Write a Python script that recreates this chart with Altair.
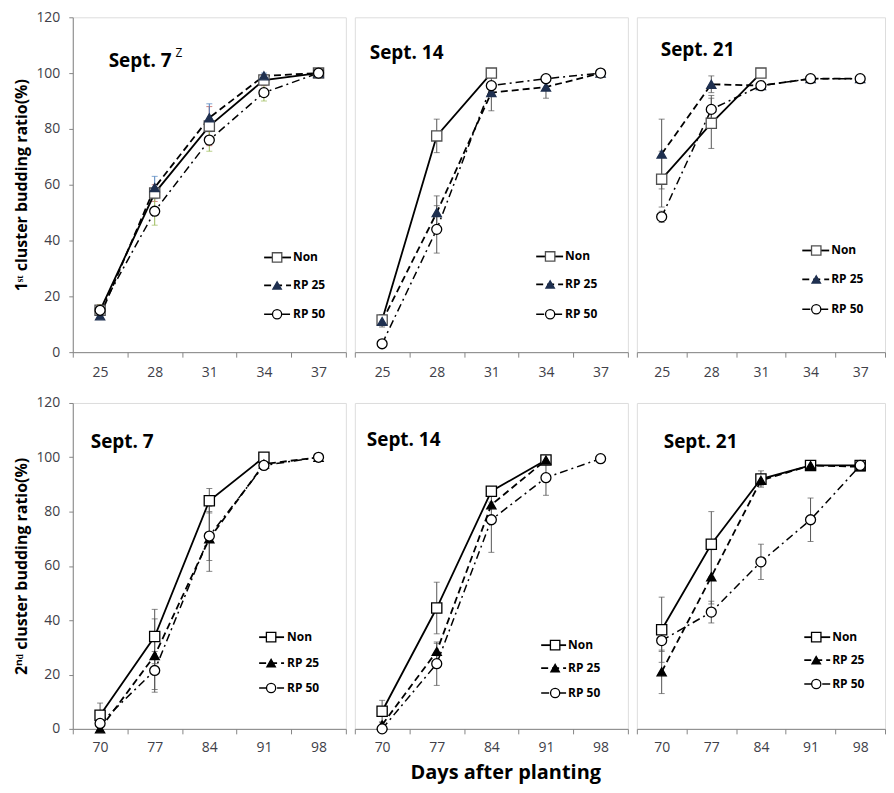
import altair as alt
import pandas as pd

SERIES = ["Non", "RP 25", "RP 50"]
DAYS_TOP = [25, 28, 31, 34, 37]
DAYS_BOTTOM = [70, 77, 84, 91, 98]
Y_TICKS = [0, 20, 40, 60, 80, 100, 120]
PANEL_LABELS = ["Sept. 7", "Sept. 14", "Sept. 21"]
NOTE = "Z"
Y_TITLE_TOP = "1ˢᵗ cluster budding ratio(%)"
Y_TITLE_BOTTOM = "2ⁿᵈ cluster budding ratio(%)"
X_TITLE = "Days after planting"

# ---- 1st cluster (top row) ----
T7_NON = [15, 57, 81, 97.5, 100]
T7_RP25 = [13, 59, 84, 99, 100]
T7_RP50 = [15, 50.5, 76, 93, 100]
T7_ERR_NON = [2, 3, 7, 2, 0]
T7_ERR_RP25 = [1, 4, 5, 1, 0]
T7_ERR_RP50 = [2, 5, 4, 3, 0]

T14_NON = [11.5, 77.5, 100, None, None]
T14_RP25 = [11, 50, 93, 95, 100]
T14_RP50 = [3, 44, 95.5, 98, 100]
T14_ERR_NON = [2, 6, 0, 0, 0]
T14_ERR_RP25 = [2, 6, 6.5, 4, 0]
T14_ERR_RP50 = [1, 8.5, 1, 1, 0]

T21_NON = [62, 82, 100, None, None]
T21_RP25 = [71, 96, 95.5, 98, 98]
T21_RP50 = [48.5, 87, 95.5, 98, 98]
T21_ERR_NON = [10, 9, 0, 0, 0]
T21_ERR_RP25 = [12.5, 3, 0, 0, 0]
T21_ERR_RP50 = [2, 5, 0, 0, 0]

# ---- 2nd cluster (bottom row) ----
B7_NON = [5, 34, 84, 100, None]
B7_RP25 = [0, 27, 70, 97.5, 100]
B7_RP50 = [2, 21.5, 71, 97, 100]
B7_ERR_NON = [4.5, 10, 4.5, 0, 0]
B7_ERR_RP25 = [0, 13.5, 12, 0, 0]
B7_ERR_RP50 = [2, 7, 9, 1, 0]

B14_NON = [6.5, 44.5, 87.5, 99, None]
B14_RP25 = [1.5, 28.5, 82.5, 99, None]
B14_RP50 = [0, 24, 77, 92.5, 99.5]
B14_ERR_NON = [4, 9.5, 1.5, 0, 0]
B14_ERR_RP25 = [1, 3, 1, 0, 0]
B14_ERR_RP50 = [0, 8, 12, 6.5, 0]

B21_NON = [36.5, 68, 92, 97, 97]
B21_RP25 = [21, 56, 91.5, 97, 96.5]
B21_RP50 = [32.5, 43, 61.5, 77, 97]
B21_ERR_NON = [12, 12, 3, 1, 1]
B21_ERR_RP25 = [8, 10, 2, 1, 1]
B21_ERR_RP50 = [4, 4, 6.5, 8, 1]

FONT = "Open Sans"
GRAY = "#868686"
LABEL_COLOR = "#404048"

DASHES = [None, [7, 4], [8, 4, 2, 4]]
WIDTHS = [1.8, 1.8, 1.5]
SHAPES = ["square", "triangle-up", "circle"]
SIZES = [105, 85, 100]


def build_panel(days, vals, errs, label, width, height, y_title, label_pos,
                legend, err_colors, tri_color, sq_color, x_title=None, note_pos=None,
                label_pad=8):
    x_axis_kwargs = dict(labelFontSize=14, labelColor=LABEL_COLOR, labelFont=FONT,
                         labelAngle=0, tickBand="extent", tickSize=5, tickColor=GRAY,
                         domainColor=GRAY, labelPadding=label_pad, grid=False)
    if x_title:
        x_axis_kwargs.update(title=x_title, titleFontSize=20, titleFont=FONT,
                             titleFontWeight="bold", titleColor="black",
                             titlePadding=8, titleX=width / 2 + 14)
    else:
        x_axis_kwargs.update(title=None)
    X = alt.X("day:O", scale=alt.Scale(type="band", domain=days, paddingInner=0,
                                       paddingOuter=0),
              axis=alt.Axis(**x_axis_kwargs))
    yscale = alt.Scale(domain=[0, 120])
    if y_title:
        yaxis = alt.Axis(title=y_title, values=Y_TICKS, labelFontSize=14,
                         labelColor=LABEL_COLOR, labelFont=FONT, tickSize=4,
                         tickColor=GRAY, domainColor=GRAY, labelPadding=9,
                         titleFontSize=16, titleFont=FONT, titleFontWeight="bold",
                         titleColor="black", titlePadding=6, grid=False)
    else:
        yaxis = None

    def Yf(field):
        return alt.Y(field, scale=yscale, axis=yaxis)

    err_layers, line_layers, pt_layers, leg_layers = [], [], [], []
    for i, s in enumerate(SERIES):
        df = pd.DataFrame({"day": days, "value": vals[i], "err": errs[i]})
        df = df.dropna(subset=["value"])
        df["lo"] = df["value"] - df["err"]
        df["hi"] = df["value"] + df["err"]
        edf = df[df["err"] > 0]
        if len(edf):
            eb = alt.Chart(edf)
            err_layers.append(eb.mark_rule(color=err_colors[i], strokeWidth=1)
                              .encode(x=X, y=Yf("lo:Q"), y2="hi:Q"))
            err_layers.append(eb.mark_tick(color=err_colors[i], orient="horizontal",
                                           size=6, thickness=1)
                              .encode(x=X, y=Yf("lo:Q")))
            err_layers.append(eb.mark_tick(color=err_colors[i], orient="horizontal",
                                           size=6, thickness=1)
                              .encode(x=X, y=Yf("hi:Q")))
        lkw = dict(color="black", strokeWidth=WIDTHS[i])
        if DASHES[i]:
            lkw["strokeDash"] = DASHES[i]
        line_layers.append(alt.Chart(df).mark_line(**lkw).encode(x=X, y=Yf("value:Q")))
        if i == 0:
            pkw = dict(fill="white", stroke=sq_color)
        elif i == 1:
            pkw = dict(fill=tri_color, stroke=tri_color)
        else:
            pkw = dict(fill="white", stroke="black")
        pt_layers.append(alt.Chart(df).mark_point(shape=SHAPES[i], size=SIZES[i],
                                                  filled=True, opacity=1,
                                                  strokeWidth=1.3, **pkw)
                         .encode(x=X, y=Yf("value:Q")))
        # legend entry
        ldf = pd.DataFrame({"series": [s]})
        ly = legend["y"][i]
        lb = alt.Chart(ldf)
        leg_layers.append(lb.mark_rule(**lkw).encode(
            x=alt.value(legend["x0"]), x2=alt.value(legend["x1"]), y=alt.value(ly)))
        leg_layers.append(lb.mark_point(shape=SHAPES[i], size=SIZES[i] * 0.85,
                                        filled=True, opacity=1, strokeWidth=1.3,
                                        **pkw).encode(
            x=alt.value(legend["xm"]), y=alt.value(ly)))
        leg_layers.append(lb.mark_text(align="left", baseline="middle", font=FONT,
                                       fontSize=12, fontWeight="bold", color="black")
                          .encode(x=alt.value(legend["xt"]), y=alt.value(ly),
                                  text="series:N"))

    tdf = pd.DataFrame({"label": [label]})
    title_layers = [alt.Chart(tdf).mark_text(align="left", baseline="middle", font=FONT,
                                             fontSize=19, fontWeight="bold",
                                             color="black")
                    .encode(x=alt.value(label_pos[0]), y=alt.value(label_pos[1]),
                            text="label:N")]
    if note_pos:
        ndf = pd.DataFrame({"note": [NOTE]})
        title_layers.append(alt.Chart(ndf).mark_text(align="left", baseline="middle",
                                                     font=FONT, fontSize=12,
                                                     color="black")
                            .encode(x=alt.value(note_pos[0]), y=alt.value(note_pos[1]),
                                    text="note:N"))

    return alt.layer(*(err_layers + line_layers + pt_layers + leg_layers + title_layers)
                     ).properties(width=width, height=height)


COLORED = ["#c0504d", "#4f81bd", "#9bbb59"]
DARK = ["#555555", "#555555", "#555555"]
NAVY = "#1f3050"
TOP_H = 336
BOT_H = 327

p1 = build_panel(DAYS_TOP, [T7_NON, T7_RP25, T7_RP50],
                 [T7_ERR_NON, T7_ERR_RP25, T7_ERR_RP50], PANEL_LABELS[0], 274, TOP_H,
                 Y_TITLE_TOP, (36, 44),
                 dict(x0=192, x1=219, xm=205, xt=221, y=[241, 269, 298]),
                 COLORED, NAVY, "#505050", note_pos=(103, 36))
p2 = build_panel(DAYS_TOP, [T14_NON, T14_RP25, T14_RP50],
                 [T14_ERR_NON, T14_ERR_RP25, T14_ERR_RP50], PANEL_LABELS[1], 274, TOP_H,
                 None, (15, 36),
                 dict(x0=182, x1=209, xm=196, xt=211, y=[240, 268, 298]),
                 DARK, NAVY, "#505050")
p3 = build_panel(DAYS_TOP, [T21_NON, T21_RP25, T21_RP50],
                 [T21_ERR_NON, T21_ERR_RP25, T21_ERR_RP50], PANEL_LABELS[2], 249, TOP_H,
                 None, (24, 33),
                 dict(x0=166, x1=193, xm=180, xt=195, y=[234, 263, 293]),
                 DARK, NAVY, "#505050")
p4 = build_panel(DAYS_BOTTOM, [B7_NON, B7_RP25, B7_RP50],
                 [B7_ERR_NON, B7_ERR_RP25, B7_ERR_RP50], PANEL_LABELS[0], 274, BOT_H,
                 Y_TITLE_BOTTOM, (18, 39),
                 dict(x0=187, x1=212, xm=199, xt=215, y=[235, 261, 286]),
                 DARK, "black", "black", label_pad=7)
p5 = build_panel(DAYS_BOTTOM, [B14_NON, B14_RP25, B14_RP50],
                 [B14_ERR_NON, B14_ERR_RP25, B14_ERR_RP50], PANEL_LABELS[1], 274, BOT_H,
                 None, (12, 37),
                 dict(x0=187, x1=212, xm=201, xt=214, y=[243, 266, 291]),
                 DARK, "black", "black", x_title=X_TITLE, label_pad=7)
p6 = build_panel(DAYS_BOTTOM, [B21_NON, B21_RP25, B21_RP50],
                 [B21_ERR_NON, B21_ERR_RP25, B21_ERR_RP50], PANEL_LABELS[2], 249, BOT_H,
                 None, (27, 39),
                 dict(x0=168, x1=194, xm=180, xt=196, y=[235, 258, 282]),
                 DARK, "black", "black", label_pad=7)

chart = alt.concat(p1, p2, p3, p4, p5, p6, columns=3,
                   spacing={"row": 51, "column": 9}, bounds="flush", align="each"
                   ).properties(
    padding={"left": 5, "top": 0, "right": 0, "bottom": 0}
).configure_view(stroke=GRAY, strokeWidth=1).configure(background="white")

chart.save("out.html", embed_options={"renderer": "svg", "actions": False})
